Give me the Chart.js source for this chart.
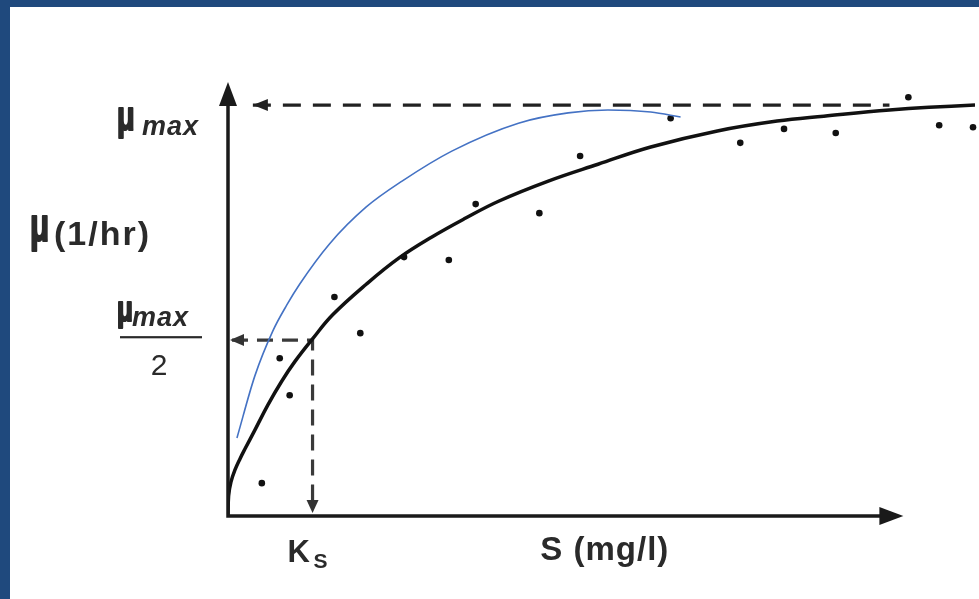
<!DOCTYPE html>
<html>
<head>
<meta charset="utf-8">
<script src="https://cdn.jsdelivr.net/npm/chart.js@4.4.1/dist/chart.umd.min.js"></script>
<style>
    html, body { margin: 0; padding: 0; overflow: hidden; background: #fff; }
    #wrap { width: 979px; height: 599px; position: relative; }
</style>
</head>
<body>
<div id="wrap"><canvas id="monodChart"></canvas></div>
<script>
// Monod curve (S in arbitrary units, mu relative to mu_max)
const curveS  = [0, 0.06, 0.3, 0.7, 1.2, 1.7, 2.7, 4.0, 5.4, 6.7, 8.5, 10.5, 13.9, 17.2, 20.5, 23.9, 27.2, 32.2, 37.2, 42.5, 49.2, 55.2, 59.9, 66.5, 75.1, 80];
const curveMu = [0, 0.049, 0.083, 0.112, 0.139, 0.163, 0.209, 0.270, 0.328, 0.375, 0.431, 0.489, 0.564, 0.628, 0.679, 0.725, 0.766, 0.815, 0.856, 0.898, 0.937, 0.961, 0.973, 0.988, 1.000, 1.003];

// measured points
const pointS  = [3.4, 5.2, 6.2, 10.7, 13.3, 17.7, 22.2, 24.9, 31.3, 35.4, 44.5, 51.5, 55.9, 61.1, 68.4, 71.5, 74.9];
const pointMu = [0.080, 0.384, 0.294, 0.533, 0.445, 0.630, 0.623, 0.759, 0.737, 0.876, 0.968, 0.908, 0.942, 0.932, 1.019, 0.951, 0.946];

// blue hand-drawn curve
const sketchS  = [0.9, 2.7, 4.5, 5.9, 7.2, 10.2, 13.9, 17.5, 22.5, 29.2, 34.2, 38.2, 42.5, 45.5];
const sketchMu = [0.190, 0.341, 0.450, 0.513, 0.564, 0.662, 0.752, 0.815, 0.888, 0.956, 0.981, 0.988, 0.983, 0.971];

// reference levels (tick positions)
const muMax = 1.0;
const muHalf = 0.428;
const ks = 8.5;
const muMaxLineS = [2.5, 66.5];
const axisEnd = { x: 67.9, y: 1.056 };

const toXY = (xs, ys) => xs.map((x, i) => ({ x: x, y: ys[i] }));

const BLUE_BG = '#1f497d';
const INK = '#1a1a1a';

// frame + white panel
const framePlugin = {
    id: 'frame',
    beforeDraw(chart) {
        const ctx = chart.ctx;
        ctx.save();
        ctx.fillStyle = BLUE_BG;
        ctx.fillRect(0, 0, chart.width, chart.height);
        ctx.fillStyle = '#fff';
        ctx.fillRect(10, 7, chart.width - 10, chart.height - 7);
        ctx.restore();
    }
};

const arrowHead = (ctx, tipX, tipY, dir, len, half) => {
    ctx.beginPath();
    ctx.moveTo(tipX, tipY);
    if (dir === 'up') {
        ctx.lineTo(tipX - half, tipY + len);
        ctx.lineTo(tipX + half, tipY + len);
    } else if (dir === 'down') {
        ctx.lineTo(tipX - half, tipY - len);
        ctx.lineTo(tipX + half, tipY - len);
    } else if (dir === 'left') {
        ctx.lineTo(tipX + len, tipY - half);
        ctx.lineTo(tipX + len, tipY + half);
    } else {
        ctx.lineTo(tipX - len, tipY - half);
        ctx.lineTo(tipX - len, tipY + half);
    }
    ctx.closePath();
    ctx.fill();
};

// narrow, tall mu glyph like the original symbol font
const drawMu = (ctx, x, baseline, size, sx) => {
    ctx.save();
    ctx.font = `bold ${size}px "Liberation Sans", Arial, sans-serif`;
    ctx.translate(x, baseline);
    ctx.scale(sx, 1);
    ctx.strokeStyle = ctx.fillStyle;
    ctx.lineWidth = 2.2;
    ctx.lineJoin = 'round';
    ctx.fillText('\u03BC', 0, 0);
    ctx.strokeText('\u03BC', 0, 0);
    ctx.restore();
};

const axesPlugin = {
    id: 'axesAndLabels',
    afterDatasetsDraw(chart) {
        const ctx = chart.ctx;
        const xs = chart.scales.x;
        const ys = chart.scales.y;
        const x0 = xs.getPixelForValue(0);
        const y0 = ys.getPixelForValue(0);
        const xEnd = xs.getPixelForValue(axisEnd.x);
        const yEnd = ys.getPixelForValue(axisEnd.y);
        const yTop = ys.getPixelForValue(muMax);
        const yHalf = ys.getPixelForValue(muHalf);
        const xKs = xs.getPixelForValue(ks);

        ctx.save();
        // axes
        ctx.strokeStyle = INK;
        ctx.fillStyle = INK;
        ctx.lineWidth = 3.5;
        ctx.beginPath();
        ctx.moveTo(x0, yEnd + 10);
        ctx.lineTo(x0, y0);
        ctx.lineTo(xEnd - 10, y0);
        ctx.stroke();
        arrowHead(ctx, x0, yEnd, 'up', 24, 9);
        arrowHead(ctx, xEnd, y0, 'right', 24, 9);

        // guide arrow heads
        ctx.fillStyle = '#222';
        arrowHead(ctx, xs.getPixelForValue(muMaxLineS[0]), yTop, 'left', 15, 6);
        ctx.fillStyle = '#333';
        arrowHead(ctx, x0 + 2, yHalf, 'left', 14, 6);
        arrowHead(ctx, xKs, y0 - 3, 'down', 13, 6);

        // labels
        ctx.fillStyle = '#2a2a2a';
        ctx.textBaseline = 'alphabetic';
        ctx.textAlign = 'left';

        // mu_max (top)
        drawMu(ctx, x0 - 111, yTop + 25, 40, 0.72);
        ctx.font = 'bold italic 27px "Liberation Sans", Arial, sans-serif';
        ctx.letterSpacing = '1px';
        ctx.fillText('max', x0 - 86, yTop + 30);

        // mu_max / 2
        drawMu(ctx, x0 - 111, yHalf - 19, 35, 0.74);
        ctx.fillText('max', x0 - 96, yHalf - 14);
        ctx.letterSpacing = '0px';
        ctx.fillRect(x0 - 108, yHalf - 4, 82, 2.2);
        ctx.font = '30px "Liberation Sans", Arial, sans-serif';
        ctx.textAlign = 'center';
        ctx.fillText('2', x0 - 69, yHalf + 35);
        ctx.textAlign = 'left';

        // y-axis title
        drawMu(ctx, x0 - 198, 241, 46, 0.68);
        ctx.font = 'bold 34px "Liberation Sans", Arial, sans-serif';
        ctx.letterSpacing = '2px';
        ctx.fillText('(1/hr)', x0 - 174, 245);

        // Ks
        ctx.letterSpacing = '0px';
        ctx.font = 'bold 31px "Liberation Sans", Arial, sans-serif';
        ctx.fillText('K', xKs - 25, y0 + 46);
        ctx.font = 'bold 21px "Liberation Sans", Arial, sans-serif';
        ctx.fillText('S', xKs + 1, y0 + 52);

        // x-axis title
        ctx.font = 'bold 33px "Liberation Sans", Arial, sans-serif';
        ctx.letterSpacing = '1px';
        ctx.fillText('S (mg/l)', xs.getPixelForValue(31.4), y0 + 44);
        ctx.restore();
    }
};

const ctxMonod = document.getElementById('monodChart').getContext('2d');
const monodChart = new Chart(ctxMonod, {
    type: 'scatter',
    data: {
        datasets: [
            {
                // blue sketch on top
                data: toXY(sketchS, sketchMu),
                showLine: true,
                borderColor: '#4472c4',
                borderWidth: 1.6,
                pointRadius: 0,
                cubicInterpolationMode: 'monotone'
            },
            {
                data: toXY(pointS, pointMu),
                showLine: false,
                pointRadius: 3.3,
                pointBackgroundColor: '#111',
                pointBorderWidth: 0,
                clip: false
            },
            {
                data: toXY(curveS, curveMu),
                showLine: true,
                borderColor: '#111',
                borderWidth: 3.5,
                pointRadius: 0,
                tension: 0.4
            },
            {
                // mu_max guide
                data: toXY(muMaxLineS, [muMax, muMax]),
                showLine: true,
                borderColor: '#222',
                borderWidth: 3.2,
                borderDash: [18, 12],
                pointRadius: 0
            },
            {
                // mu_max/2 guide and Ks drop
                data: toXY([0.4, ks, ks], [muHalf, muHalf, 0.03]),
                showLine: true,
                borderColor: '#3a3a3a',
                borderWidth: 3.2,
                borderDash: [16, 9],
                pointRadius: 0,
                tension: 0
            }
        ]
    },
    options: {
        responsive: true,
        maintainAspectRatio: false,
        animation: false,
        events: [],
        layout: { padding: { left: 228, top: 80, right: 0, bottom: 83 } },
        plugins: {
            legend: { display: false },
            tooltip: { enabled: false }
        },
        scales: {
            x: { type: 'linear', display: false, min: 0, max: 75.1 },
            y: { type: 'linear', display: false, min: 0, max: 1.061 }
        }
    },
    plugins: [framePlugin, axesPlugin]
});
</script>
</body>
</html>
